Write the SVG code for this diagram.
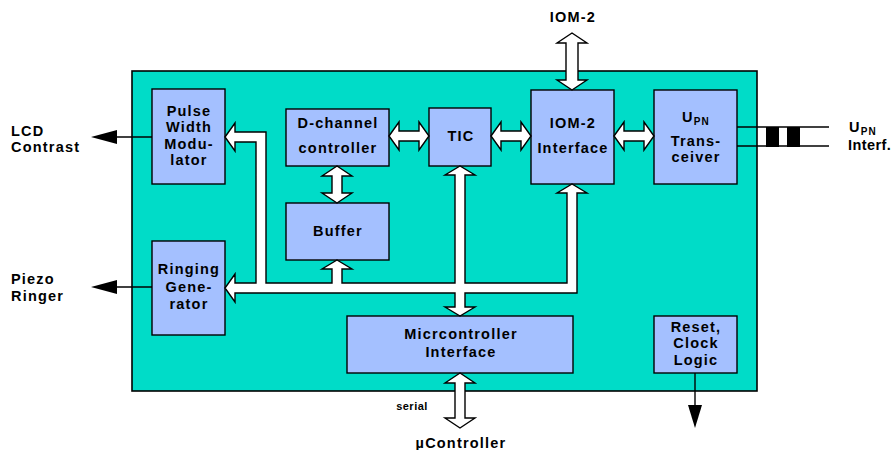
<svg xmlns="http://www.w3.org/2000/svg" width="895" height="450" viewBox="0 0 895 450">
<style>
.t{font-family:"Liberation Sans",Arial,Helvetica,sans-serif;font-weight:bold;font-size:14.5px;letter-spacing:1.2px;fill:#000}
.c{text-anchor:middle}
.box{fill:#a4c0ff;stroke:#000;stroke-width:1.4}
.fat{fill:#fff;stroke:#000;stroke-width:1.4;stroke-linejoin:miter}
.ln{stroke:#000;stroke-width:1.4;fill:none}
.sub{font-size:10px}
</style>
<rect x="132" y="71" width="625" height="320" fill="#00dcc8" stroke="#000" stroke-width="1.6"/>

<g id="pwm"><rect class="box" x="152" y="89" width="73" height="95"/>
<text class="t c" x="189" y="116">Pulse</text><text class="t c" x="189" y="132">Width</text><text class="t c" x="189" y="149">Modu-</text><text class="t c" x="189" y="165">lator</text></g>
<g id="dch"><rect class="box" x="286" y="109" width="103" height="57"/>
<text class="t c" x="338" y="128">D-channel</text><text class="t c" x="338" y="153">controller</text></g>
<g id="buffer"><rect class="box" x="286" y="203" width="103" height="57"/>
<text class="t c" x="338" y="236">Buffer</text></g>
<g id="tic"><rect class="box" x="429" y="108" width="62" height="58"/>
<text class="t c" x="461" y="141">TIC</text></g>
<g id="iom"><rect class="box" x="531" y="90" width="83" height="94"/>
<text class="t c" x="573" y="128">IOM-2</text><text class="t c" x="573" y="153">Interface</text></g>
<g id="upn"><rect class="box" x="654" y="90" width="83" height="94"/>
<text class="t c" x="696" y="122">U<tspan class="sub" dy="3">PN</tspan></text><text class="t c" x="696" y="146">Trans-</text><text class="t c" x="696" y="162">ceiver</text></g>
<g id="ring"><rect class="box" x="152" y="241" width="73" height="94"/>
<text class="t c" x="189" y="274">Ringing</text><text class="t c" x="189" y="292">Gene-</text><text class="t c" x="189" y="309">rator</text></g>
<g id="mcu"><rect class="box" x="347" y="316" width="226" height="57"/>
<text class="t c" x="461" y="339">Micrcontroller</text><text class="t c" x="461" y="357">Interface</text></g>
<g id="reset"><rect class="box" x="654" y="316" width="83" height="57"/>
<text class="t c" x="696" y="332">Reset,</text><text class="t c" x="696" y="348">Clock</text><text class="t c" x="696" y="365">Logic</text></g>

<g id="connectors">
<path class="fat" d="M225,137 L235,123 L235,132 L266,132 L266,283 L332,283 L332,269 L322,269 L337,260 L352,269 L342,269 L342,283 L455,283 L455,175 L445,175 L460,166 L475,175 L465,175 L465,283 L567,283 L567,193 L557,193 L572,184 L587,193 L577,193 L577,293 L465,293 L465,307 L475,307 L460,316 L445,307 L455,307 L455,293 L235,293 L235,302 L225,288 L235,274 L235,283 L256,283 L256,142 L235,142 L235,151 Z"/>
<path class="fat" d="M389,136 L399,122 L399,131 L419,131 L419,122 L429,136 L419,150 L419,141 L399,141 L399,150 Z"/>
<path class="fat" d="M491,136 L501,122 L501,131 L521,131 L521,122 L531,136 L521,150 L521,141 L501,141 L501,150 Z"/>
<path class="fat" d="M614,136 L624,122 L624,131 L644,131 L644,122 L654,136 L644,150 L644,141 L624,141 L624,150 Z"/>
<path class="fat" d="M337,166 L352,176 L342,176 L342,193 L352,193 L337,203 L322,193 L332,193 L332,176 L322,176 Z"/>
<path class="fat" d="M572,33 L587,43 L578,43 L578,80 L587,80 L572,90 L557,80 L566,80 L566,43 L557,43 Z"/>
<path class="fat" d="M460,373 L475,383 L465,383 L465,418 L475,418 L460,428 L445,418 L455,418 L455,383 L445,383 Z"/>
<line class="ln" x1="152" y1="137" x2="115" y2="137"/>
<polygon points="91,137 117,130 117,144" fill="#000"/>
<line class="ln" x1="152" y1="287" x2="115" y2="287"/>
<polygon points="91,287 117,280 117,294" fill="#000"/>
<line class="ln" x1="695" y1="373" x2="695" y2="406"/>
<polygon points="688,405 702,405 695,428" fill="#000"/>
<line class="ln" x1="737" y1="127" x2="829" y2="127"/>
<line class="ln" x1="737" y1="146" x2="829" y2="146"/>
<rect x="766" y="127" width="13" height="20" fill="#000"/>
<rect x="787" y="127" width="13" height="20" fill="#000"/>
</g>

<text class="t c" x="573" y="22">IOM-2</text>
<text class="t" x="11" y="136">LCD</text><text class="t" x="11" y="152">Contrast</text>
<text class="t" x="11" y="284">Piezo</text><text class="t" x="11" y="301">Ringer</text>
<text class="t" x="849" y="132">U<tspan class="sub" dy="3">PN</tspan></text>
<text class="t" x="848" y="150" style="letter-spacing:0.4px">Interf.</text>
<text class="t c" x="412" y="410" style="font-size:11px;letter-spacing:0.5px">serial</text>
<text class="t c" x="461" y="448">µController</text>
</svg>
